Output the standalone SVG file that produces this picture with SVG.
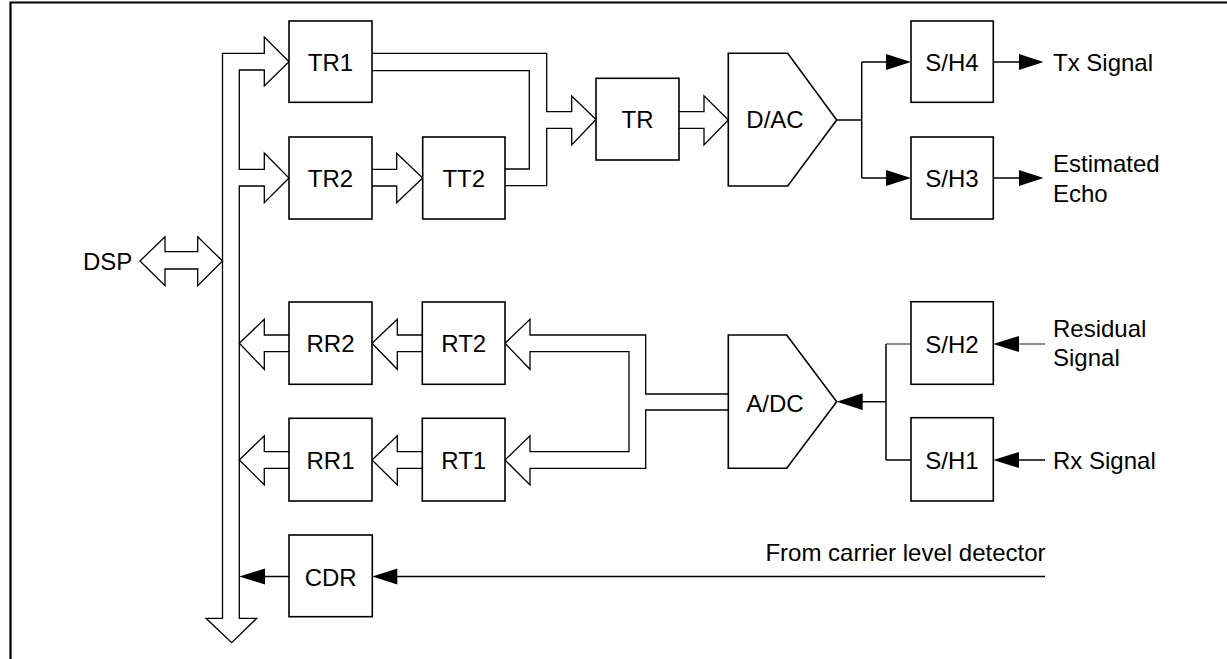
<svg xmlns="http://www.w3.org/2000/svg" width="1227" height="659" viewBox="0 0 1227 659">
<style>
.box{fill:#fff;stroke:#000;stroke-width:1.6}
.hol{fill:#fff;stroke:#000;stroke-width:1.3;stroke-linejoin:miter}
.ln{fill:none;stroke:#000;stroke-width:1.5}
.thin{fill:none;stroke:#333;stroke-width:1.1}
.ah{fill:#000;stroke:none}
text{font-family:"Liberation Sans",Arial,sans-serif;font-size:24px;fill:#000}
.c{text-anchor:middle}
</style>
<rect width="1227" height="659" fill="#fff"/>
<g id="frame">
<path d="M10.5,659 L10.5,2.5 L1227,2.5" fill="none" stroke="#000" stroke-width="2.2"/>
</g>
<g id="connectors">
<!-- bus -->
<path class="hol" d="M206,618.3 L222.5,618.3 L222.5,53.3 L264.3,53.3 L264.3,37 L289,61.7 L264.3,86 L264.3,70 L239.3,70 L239.3,169.3 L264.3,169.3 L264.3,153 L289,178 L264.3,202.7 L264.3,186 L239.3,186 L239.3,618.3 L256.7,618.3 L231.7,642.7 Z"/>
<!-- DSP double arrow -->
<path class="hol" d="M140,261 L165,236.7 L165,251.7 L197.7,251.7 L197.7,236.7 L222.5,261 L197.7,285.7 L197.7,269 L165,269 L165,285.7 Z"/>
<!-- TR2 -> TT2 -->
<path class="hol" d="M372,169.3 L396.7,169.3 L396.7,153.3 L422.7,178 L396.7,202.7 L396.7,186 L372,186"/>
<!-- TR1 / TT2 -> TR -->
<path class="hol" d="M372,53.3 L546.7,53.3 L546.7,111.7 L571.7,111.7 L571.7,96 L596,119.5 L571.7,145 L571.7,128.3 L546.7,128.3 L546.7,185.7 L505,185.7"/>
<path class="hol" fill="none" d="M372,70.7 L529.3,70.7 L529.3,169 L505,169"/>
<!-- TR -> D/AC -->
<path class="hol" d="M679,111.7 L704,111.7 L704,95.7 L728.3,120 L704,145 L704,128.3 L679,128.3"/>
<!-- D/AC outputs -->
<path class="ln" d="M836.7,120 L861.7,120 M861.7,62 L861.7,178 M861.7,62 L888,62 M861.7,178 L888,178"/>
<polygon class="ah" points="886,54 911,62 886,70"/>
<polygon class="ah" points="886,170 911,178 886,186"/>
<path class="ln" d="M993,62 L1021,62 M993,178 L1021,178"/>
<polygon class="ah" points="1019,54 1043.5,62 1019,70"/>
<polygon class="ah" points="1019,170 1043.5,178 1019,186"/>
<!-- A/DC -> RT2 / RT1 -->
<path class="hol" d="M728.3,394 L645.7,394 L645.7,335 L530,335 L530,319.3 L505,343.3 L530,369.3 L530,351.7 L629,351.7 L629,451.7 L530,451.7 L530,435.7 L505,460 L530,485 L530,468.3 L645.7,468.3 L645.7,410 L728.3,410"/>
<!-- RT -> RR -->
<path class="hol" d="M422.3,335 L397.3,335 L397.3,319.3 L372,343.3 L397.3,369.3 L397.3,351.7 L422.3,351.7"/>
<path class="hol" d="M422.3,451.7 L397.3,451.7 L397.3,435.7 L372,460 L397.3,485 L397.3,468.3 L422.3,468.3"/>
<!-- RR -> bus -->
<path class="hol" d="M289,335 L264.3,335 L264.3,319.3 L239.3,343.3 L264.3,369.3 L264.3,351.7 L289,351.7"/>
<path class="hol" d="M289,451.7 L264.3,451.7 L264.3,435.7 L239.3,460 L264.3,485 L264.3,468.3 L289,468.3"/>
<!-- S/H -> A/DC -->
<path class="ln" d="M860,401.7 L886,401.7 M886,344 L886,460 M886,460 L911,460"/>
<path class="thin" d="M886,344 L911,344"/>
<polygon class="ah" points="862.7,393.3 836.7,401.7 862.7,410.1"/>
<!-- inputs to S/H -->
<path class="thin" d="M1045,344 L1017,344"/>
<polygon class="ah" points="1019,336 993.3,344 1019,352"/>
<path class="ln" d="M1045,460 L1017,460"/>
<polygon class="ah" points="1019,452 993.3,460 1019,468"/>
<!-- CDR -->
<path class="ln" d="M289,576.5 L263,576.5 M1045,576.5 L395,576.5"/>
<polygon class="ah" points="265,568.5 239.3,576.5 265,584.5"/>
<polygon class="ah" points="397.3,568.5 372.3,576.5 397.3,584.5"/>
</g>
<g id="TR1"><rect class="box" x="289" y="21" width="83" height="81.3"/><text class="c" x="330.5" y="70.5">TR1</text></g>
<g id="TR2"><rect class="box" x="289" y="137" width="83" height="82"/><text class="c" x="330.5" y="187">TR2</text></g>
<g id="TT2"><rect class="box" x="422.7" y="137" width="82.3" height="82"/><text class="c" x="463.8" y="187">TT2</text></g>
<g id="TR"><rect class="box" x="596" y="78.3" width="83" height="81.7"/><text class="c" x="637.5" y="128">TR</text></g>
<g id="DAC"><polygon class="box" points="728.3,53.3 787.7,53.3 836.7,120 787.7,186 728.3,186"/><text class="c" x="775" y="128">D/AC</text></g>
<g id="SH4"><rect class="box" x="911" y="21" width="82.3" height="81.3"/><text class="c" x="952" y="71">S/H4</text></g>
<g id="SH3"><rect class="box" x="911" y="137" width="82.3" height="82"/><text class="c" x="952" y="187">S/H3</text></g>
<g id="RR2"><rect class="box" x="289" y="302" width="83" height="82.3"/><text class="c" x="330.5" y="352">RR2</text></g>
<g id="RT2"><rect class="box" x="422.3" y="302" width="82.7" height="82.3"/><text class="c" x="463.7" y="352">RT2</text></g>
<g id="RR1"><rect class="box" x="289" y="418.3" width="83" height="82.7"/><text class="c" x="330.5" y="469">RR1</text></g>
<g id="RT1"><rect class="box" x="422.3" y="418.3" width="82.7" height="82.7"/><text class="c" x="463.7" y="469">RT1</text></g>
<g id="ADC"><polygon class="box" points="728.3,335 786.7,335 836.7,401.7 786.7,468.3 728.3,468.3"/><text class="c" x="775" y="411.5">A/DC</text></g>
<g id="SH2"><rect class="box" x="911" y="301.7" width="82.3" height="82.6"/><text class="c" x="952" y="353">S/H2</text></g>
<g id="SH1"><rect class="box" x="911" y="417.7" width="82.3" height="83.3"/><text class="c" x="952" y="469">S/H1</text></g>
<g id="CDR"><rect class="box" x="289" y="535" width="83.3" height="81.7"/><text class="c" x="330.7" y="585.5">CDR</text></g>
<g id="labels">
<text x="83" y="270">DSP</text>
<text x="1053" y="71">Tx Signal</text>
<text x="1053" y="171.5">Estimated</text>
<text x="1053" y="201.5">Echo</text>
<text x="1053" y="337">Residual</text>
<text x="1053" y="365.5">Signal</text>
<text x="1053" y="468.5">Rx Signal</text>
<text x="1045.5" y="560.5" text-anchor="end">From carrier level detector</text>
</g>
</svg>
